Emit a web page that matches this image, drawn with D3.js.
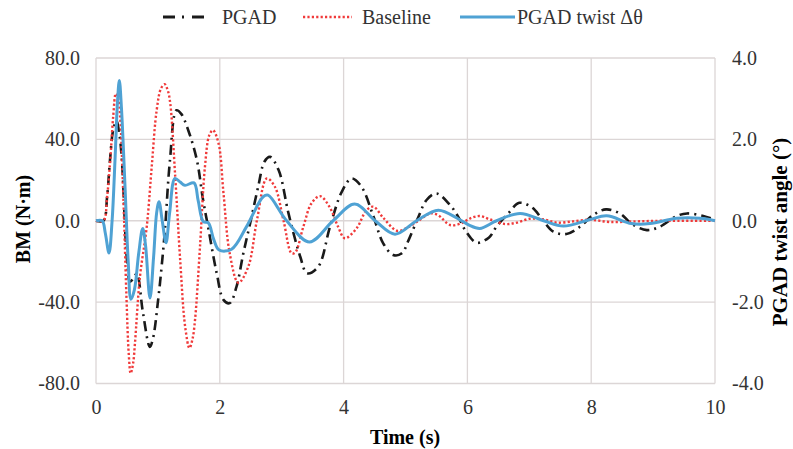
<!DOCTYPE html>
<html>
<head>
<meta charset="utf-8">
<script src="https://cdn.jsdelivr.net/npm/d3@7"></script>
<style>
  body { margin: 0; background: #fff; }
  svg { display: block; }
  text { font-family: "Liberation Serif", "Times New Roman", serif; }
</style>
</head>
<body>
<svg id="chart" width="793" height="449"></svg>
<script>
// PGAD bending moment (N·m)
var pgadTime = [0, 0.12, 0.18, 0.226, 0.28, 0.33, 0.38, 0.42, 0.50, 0.55, 0.61, 0.66, 0.76, 0.87, 0.92, 1.007, 1.06, 1.115, 1.195, 1.30, 1.38, 1.49, 1.63, 1.73, 1.81, 1.95, 2.06, 2.16, 2.27, 2.38, 2.49, 2.62, 2.72, 2.81, 2.95, 3.11, 3.30, 3.41, 3.59, 3.78, 3.97, 4.13, 4.29, 4.48, 4.64, 4.80, 4.94, 5.05, 5.21, 5.34, 5.50, 5.72, 5.85, 5.98, 6.15, 6.35, 6.47, 6.66, 6.84, 7.05, 7.20, 7.39, 7.60, 7.82, 8.03, 8.24, 8.47, 8.65, 8.90, 9.11, 9.38, 9.55, 9.81, 10];
var pgadBM = [0, 0, 12, 29.8, 45, 49, 42, 29, -19, -30, -28, -26, -45.5, -62, -58, -38, -22.6, -4, 29.8, 54.3, 52.4, 44.5, 29.8, 10.2, -2.9, -25.8, -38.9, -40.5, -32.4, -16, -1.3, 16.7, 29, 31.4, 24.9, 3.6, -17.7, -25.8, -22.6, -2.9, 14.2, 20.8, 16.7, 2.3, -11.1, -16.8, -16, -9.5, 2, 10.2, 13.4, 7.7, 2, -5.4, -10.8, -8.2, -2.9, 3.6, 8.8, 6.4, 1.1, -5.4, -6.5, -2.9, 2.8, 5.6, 3.5, -1.4, -4.6, -2.9, 2.3, 3.6, 2.3, 0.5];

// Baseline bending moment (N·m)
var baseTime = [0, 0.12, 0.18, 0.23, 0.28, 0.32, 0.36, 0.39, 0.44, 0.49, 0.53, 0.56, 0.60, 0.63, 0.71, 0.82, 0.90, 0.98, 1.05, 1.11, 1.16, 1.20, 1.28, 1.36, 1.44, 1.51, 1.56, 1.60, 1.68, 1.76, 1.83, 1.89, 1.98, 2.06, 2.16, 2.30, 2.46, 2.60, 2.76, 2.89, 3.03, 3.16, 3.22, 3.35, 3.48, 3.62, 3.78, 3.91, 4.02, 4.21, 4.37, 4.48, 4.64, 4.86, 5.01, 5.21, 5.40, 5.53, 5.72, 5.90, 6.04, 6.20, 6.36, 6.61, 6.80, 7.01, 7.23, 7.44, 7.71, 7.98, 8.30, 8.73, 9.16, 10];
var baseBM = [0, 0, 12, 29.8, 52, 62.5, 60, 51, 13.4, -35.6, -66, -75, -70, -60, -27.5, -2.9, 26.5, 54.3, 65, 67.1, 64, 57.6, 21.6, -19.3, -52, -62.6, -58, -48.7, -12.8, 26.5, 42, 44.5, 38, 13.4, -16, -30.5, -22.6, 0.3, 20.8, 16.7, 0, -16, -15.5, -2.9, 8.5, 12.1, 6.4, -2.9, -8.6, -3.7, 5.2, 6.9, 1.5, -4.9, -3.7, 0, 3.6, 2.7, -2.1, -1.3, 1.1, 2.3, 0.7, -1.6, -0.9, 1.0, 0.7, -0.9, -0.3, 0.5, -0.6, -0.3, 0, 0];

// PGAD twist angle (deg), right axis
var twistTime = [0, 0.1, 0.15, 0.21, 0.26, 0.31, 0.35, 0.377, 0.41, 0.47, 0.52, 0.565, 0.62, 0.69, 0.754, 0.80, 0.872, 0.93, 0.98, 1.018, 1.07, 1.131, 1.19, 1.276, 1.36, 1.438, 1.583, 1.65, 1.734, 1.815, 1.9, 1.99, 2.19, 2.43, 2.70, 2.78, 3.08, 3.45, 3.83, 4.18, 4.51, 4.83, 5.18, 5.53, 5.85, 6.02, 6.20, 6.47, 6.85, 7.23, 7.55, 7.98, 8.25, 8.65, 8.95, 9.38, 9.76, 10];
var twistDeg = [0, 0, -0.3, -0.79, 0, 1.6, 3.0, 3.45, 2.8, 0.8, -1.0, -1.93, -1.7, -0.8, -0.19, -0.6, -1.9, -0.9, 0.2, 0.47, 0, -0.54, 0.2, 1.04, 0.95, 0.87, 0.93, 0.5, -0.02, -0.05, -0.45, -0.72, -0.7, -0.15, 0.59, 0.63, 0, -0.52, 0, 0.41, 0, -0.33, 0, 0.26, 0.05, -0.1, -0.19, 0, 0.18, 0, -0.13, 0.03, 0.12, -0.07, -0.07, 0.06, 0.06, 0];

var xTicks = [0, 2, 4, 6, 8, 10];
var leftTicks = [-80, -40, 0, 40, 80];
var rightTicks = [-4, -2, 0, 2, 4];

var svg = d3.select("#chart");
var plotL = 96, plotR = 715, plotT = 58, plotB = 383.5;

var x = d3.scaleLinear().domain([0, 10]).range([plotL, plotR]);
var y = d3.scaleLinear().domain([-80, 80]).range([plotB, plotT]);
var y2 = d3.scaleLinear().domain([-4, 4]).range([plotB, plotT]);

var gridColor = "#dcd6d6";
// excel style labels use a plain hyphen for negatives
var fmt1 = function (d) { return d.toFixed(1); };

// grid
svg.append("g").selectAll("line").data(leftTicks).join("line")
    .attr("x1", plotL).attr("x2", plotR)
    .attr("y1", d => y(d)).attr("y2", d => y(d))
    .attr("stroke", gridColor).attr("stroke-width", 1.3);
svg.append("g").selectAll("line").data(xTicks).join("line")
    .attr("x1", d => x(d)).attr("x2", d => x(d))
    .attr("y1", plotT).attr("y2", plotB)
    .attr("stroke", gridColor).attr("stroke-width", 1.3);

// axes (labels only)
var yAxisL = svg.append("g").attr("transform", "translate(" + (plotL - 16) + ",0)")
    .call(d3.axisLeft(y).tickValues(leftTicks).tickFormat(fmt1).tickSize(0).tickPadding(0));
var yAxisR = svg.append("g").attr("transform", "translate(" + (plotR + 17) + ",0)")
    .call(d3.axisRight(y2).tickValues(rightTicks).tickFormat(fmt1).tickSize(0).tickPadding(0));
var xAxis = svg.append("g").attr("transform", "translate(0," + (plotB + 16) + ")")
    .call(d3.axisBottom(x).tickValues(xTicks).tickFormat(d3.format("d")).tickSize(0).tickPadding(0));

[yAxisL, yAxisR, xAxis].forEach(function (a) {
    a.select(".domain").remove();
    a.selectAll("text").style("font-family", "Liberation Serif").style("font-size", "20px").attr("fill", "#333");
});

// lines
var line = function (ys) {
    return d3.line().x(d => x(d[0])).y(d => ys(d[1])).curve(d3.curveCatmullRom.alpha(0.5));
};

svg.append("path").datum(d3.zip(pgadTime, pgadBM))
    .attr("d", line(y)).attr("fill", "none")
    .attr("stroke", "#1a1a1a").attr("stroke-width", 2.6)
    .attr("stroke-dasharray", "10,5,2,5");

svg.append("path").datum(d3.zip(baseTime, baseBM))
    .attr("d", line(y)).attr("fill", "none")
    .attr("stroke", "#f03a3a").attr("stroke-width", 2.4)
    .attr("stroke-dasharray", "2.2,2.2");

svg.append("path").datum(d3.zip(twistTime, twistDeg))
    .attr("d", line(y2)).attr("fill", "none")
    .attr("stroke", "#4fa2d4").attr("stroke-width", 3);

// axis titles
svg.append("text").attr("transform", "translate(23,219) rotate(-90)")
    .attr("text-anchor", "middle").attr("dominant-baseline", "central")
    .style("font-size", "20px").style("font-weight", "bold").text("BM (N·m)");
svg.append("text").attr("transform", "translate(780,232) rotate(-90)")
    .attr("text-anchor", "middle").attr("dominant-baseline", "central")
    .style("font-size", "21px").style("font-weight", "bold").text("PGAD twist angle (°)");
svg.append("text").attr("x", 405).attr("y", 444)
    .attr("text-anchor", "middle")
    .style("font-size", "20px").style("font-weight", "bold").text("Time (s)");

// legend
var legY = 17;
var legend = svg.append("g");
legend.append("line").attr("x1", 163).attr("x2", 206).attr("y1", legY).attr("y2", legY)
    .attr("stroke", "#1a1a1a").attr("stroke-width", 3).attr("stroke-dasharray", "12,7,2,8");
legend.append("text").attr("x", 222).attr("y", legY + 7).style("font-size", "20px").attr("fill", "#333").text("PGAD");
legend.append("line").attr("x1", 303).attr("x2", 352).attr("y1", legY).attr("y2", legY)
    .attr("stroke", "#f03a3a").attr("stroke-width", 2.4).attr("stroke-dasharray", "2.2,2.2");
legend.append("text").attr("x", 362).attr("y", legY + 7).style("font-size", "20px").attr("fill", "#333").text("Baseline");
legend.append("line").attr("x1", 460).attr("x2", 515).attr("y1", legY).attr("y2", legY)
    .attr("stroke", "#4fa2d4").attr("stroke-width", 3);
legend.append("text").attr("x", 517).attr("y", legY + 7).style("font-size", "20px").attr("fill", "#333").text("PGAD twist Δθ");
</script>
</body>
</html>
